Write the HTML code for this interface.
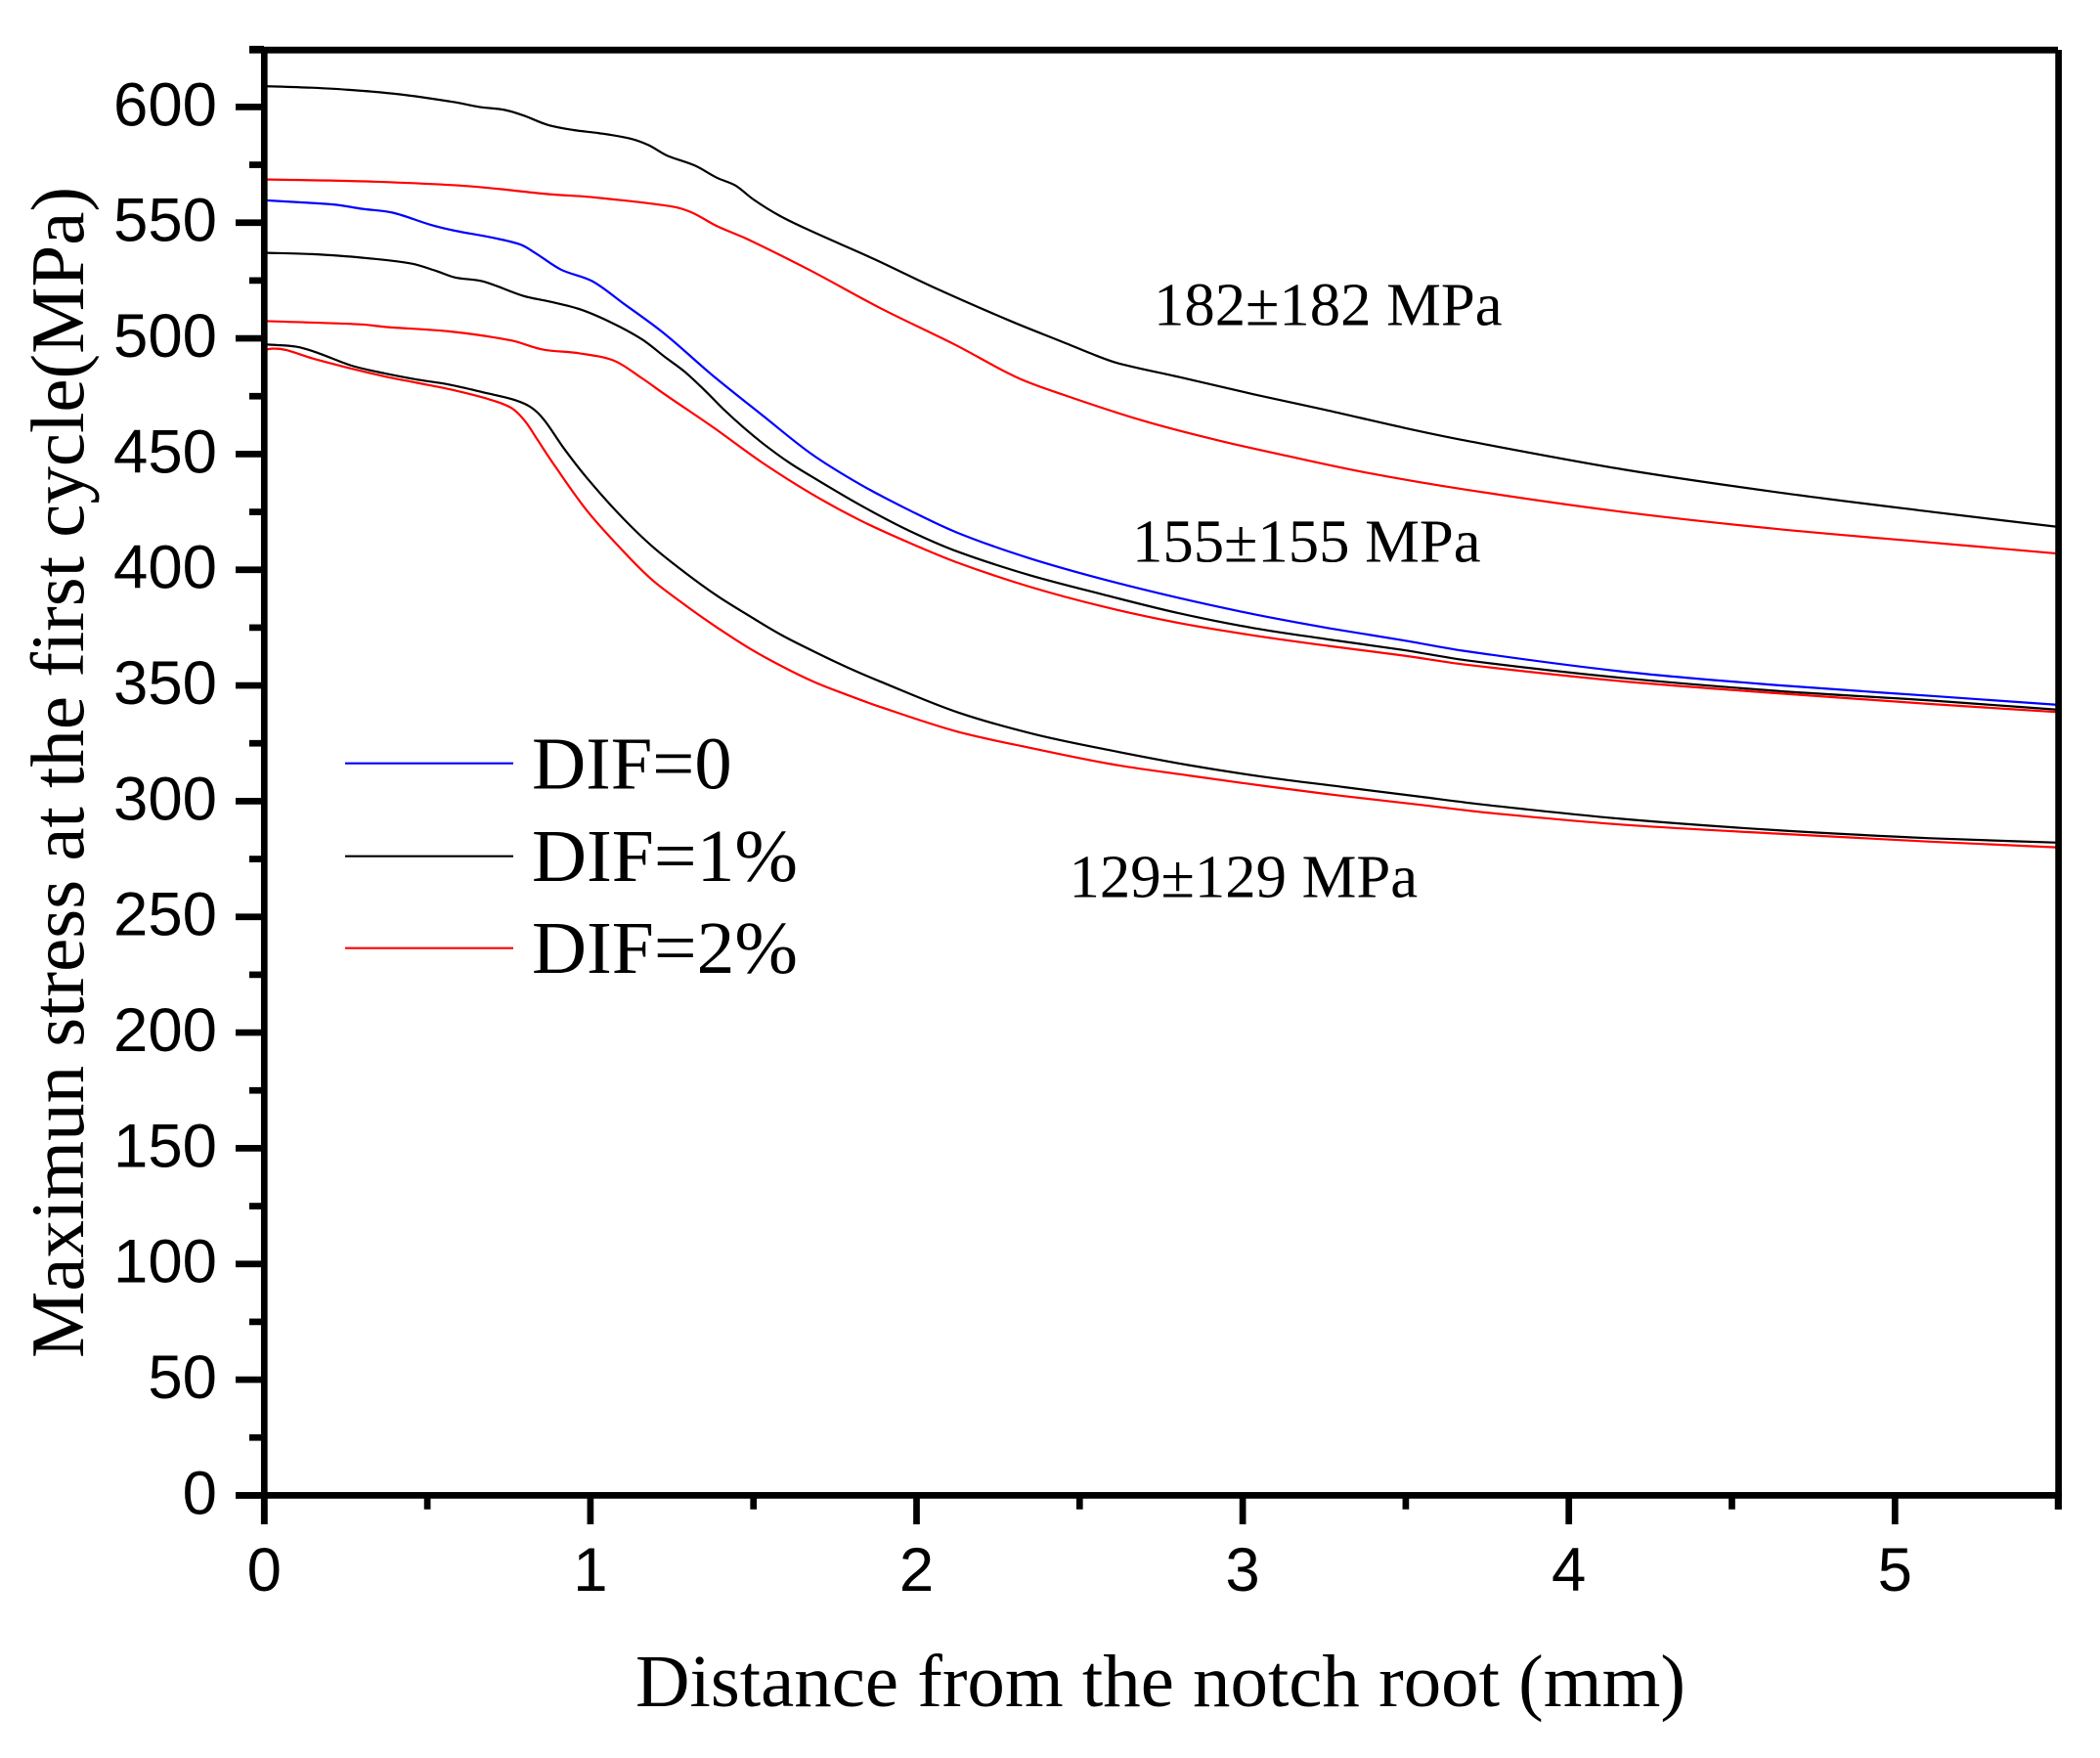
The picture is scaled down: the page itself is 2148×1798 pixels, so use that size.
<!DOCTYPE html>
<html>
<head>
<meta charset="utf-8">
<title>Maximum stress vs distance from the notch root</title>
<style>
html,body{margin:0;padding:0;background:#fff;}
svg{display:block;}
.serif{font-family:"Liberation Serif",serif;fill:#000;}
.sans{font-family:"Liberation Sans",sans-serif;fill:#000;}
</style>
</head>
<body>
<svg id="chart" xmlns="http://www.w3.org/2000/svg" width="2148" height="1798" viewBox="0 0 2148 1798">
  <rect x="0" y="0" width="2148" height="1798" fill="#fff"/>
  <g id="series"></g>
  <g id="axes"></g>
  <text class="serif" x="650" y="1745" font-size="76.5" textLength="1074" lengthAdjust="spacingAndGlyphs">Distance from the notch root (mm)</text>
  <text class="serif" transform="translate(85,1389) rotate(-90)" font-size="77" textLength="1198" lengthAdjust="spacingAndGlyphs">Maximun stress at the first cycle(MPa)</text>
  <g>
    <line x1="353" x2="525" y1="780.7" y2="780.7" stroke="#0000ff" stroke-width="2.2"/>
    <text class="serif" x="544" y="806.7" font-size="76.5">DIF=0</text>
    <line x1="353" x2="525" y1="875.7" y2="875.7" stroke="#000" stroke-width="2.2"/>
    <text class="serif" x="544" y="901" font-size="76.5" textLength="272" lengthAdjust="spacingAndGlyphs">DIF=1%</text>
    <line x1="353" x2="525" y1="969.7" y2="969.7" stroke="#ff0000" stroke-width="2.2"/>
    <text class="serif" x="544" y="995" font-size="76.5" textLength="272" lengthAdjust="spacingAndGlyphs">DIF=2%</text>
  </g>
  <text class="serif" x="1180" y="332.7" font-size="62.7">182±182 MPa</text>
  <text class="serif" x="1158" y="574.3" font-size="62.7">155±155 MPa</text>
  <text class="serif" x="1093.5" y="917.5" font-size="62.7">129±129 MPa</text>
</svg>
<script>
var yTickValues = [0,50,100,150,200,250,300,350,400,450,500,550,600];
var yMinorValues = [25,75,125,175,225,275,325,375,425,475,525,575,625];
var xTickValues = [0,1,2,3,4,5];
var xMinorValues = [0.5,1.5,2.5,3.5,4.5,5.5];

var x182Dif1 = [0,0.145,0.26,0.413,0.585,0.66,0.738,0.795,0.87,0.948,1.025,1.12,1.178,1.235,1.32,1.388,1.445,1.5,1.58,1.675,1.866,2.059,2.288,2.461,2.552,2.621,2.805,3.034,3.263,3.493,3.685,4.165,4.633,5.108,5.5];
var v182Dif1 = [609,608.3,607.4,605.5,602,600,598.7,596.3,592.2,590,588.7,586.4,583.5,579,574.7,569.4,566,560,553,546.5,534.5,521.6,507.5,497.7,492.5,489.1,483.3,475.8,468.8,461.4,455.8,443.4,433.6,425.1,418.5];

var x182Dif2 = [0,0.337,0.623,0.872,1.006,1.254,1.312,1.388,1.484,1.675,1.887,2.116,2.311,2.461,2.69,2.919,3.149,3.378,3.685,4.159,4.633,5.108,5.5];
var v182Dif2 = [568.7,567.7,565.8,562.3,561,556.9,554.3,548.5,542.7,529.3,513.2,497.4,482.9,475.1,464.6,456.1,448.8,442,434.6,425.1,417.7,411.8,407];

var x155Dif0 = [0,0.107,0.222,0.298,0.394,0.509,0.585,0.7,0.786,0.834,0.91,1.006,1.101,1.228,1.378,1.528,1.678,1.828,1.977,2.127,2.346,2.575,2.805,3.034,3.263,3.493,3.685,4.159,4.633,5.108,5.5];
var v155Dif0 = [559.7,558.8,557.7,556,554.3,549.1,546.5,543.5,540.5,536.6,529.7,524.7,515.1,501.9,483.6,466.7,450,436.8,425.8,415.9,405,395.8,387.8,380.8,374.8,369.5,364.8,356.1,350.2,345.5,341.6];

var x155Dif1 = [0,0.145,0.298,0.451,0.528,0.585,0.671,0.795,0.872,0.967,1.063,1.159,1.228,1.288,1.348,1.408,1.468,1.528,1.603,1.678,1.828,1.977,2.127,2.346,2.575,2.805,3.034,3.263,3.493,3.685,4.159,4.633,5.108,5.5];
var v155Dif1 = [537,536.4,534.9,532.3,529.1,526.3,524.6,518.3,516,512.6,506.9,499.5,492,485.7,477.9,469.4,461.7,454.7,446.9,440.3,427.9,416.9,407.8,397.7,389.2,381.2,374.8,369.9,365.3,360.9,353.3,347.7,343.5,339.5];

var x155Dif2 = [0,0.298,0.375,0.566,0.757,0.853,0.967,1.073,1.159,1.228,1.378,1.528,1.678,1.828,1.977,2.127,2.346,2.575,2.805,3.034,3.263,3.493,3.685,4.159,4.633,5.108,5.5];
var v155Dif2 = [507.5,506,504.9,503,499.1,495.2,493.5,490.3,482.7,475.8,461.4,446.2,432.8,421.3,411.7,403,392.7,384,377,371.6,367.1,362.9,359,351.9,346.7,342,338.5];

var x129Dif1 = [0.009,0.098,0.168,0.268,0.368,0.468,0.568,0.6885,0.769,0.818,0.858,0.918,0.988,1.088,1.188,1.288,1.388,1.488,1.588,1.688,1.788,1.887,2.124,2.36,2.597,2.834,3.07,3.31,3.546,3.745,4.159,4.633,5.108,5.5];
var v129Dif1 = [497.3,496.4,493.5,488.2,484.9,482.2,480,476.1,473.3,470.2,464.8,452.6,439.9,424,410.3,399,388.8,380,371.6,364.5,357.8,351.8,338.5,329,321.9,315.6,310.4,306.1,301.9,298.4,292.4,287.5,284,282.1];

var x129Dif2 = [0,0.028,0.068,0.148,0.268,0.368,0.468,0.568,0.6885,0.758,0.798,0.838,0.888,0.988,1.088,1.188,1.288,1.388,1.488,1.588,1.688,1.788,1.887,2.124,2.36,2.597,2.834,3.07,3.31,3.546,3.745,4.159,4.633,5.108,5.5];
var v129Dif2 = [495,495.6,494.9,491.3,486.9,483.6,480.8,478,473.7,469.9,464.5,456.1,445.5,425.8,409.9,395.8,385,375.1,366,358.2,351.4,345.9,340.8,330.1,322.7,316,311.1,306.5,302.2,298.4,295.1,289.9,286,282.5,280];

var SVGNS = 'http://www.w3.org/2000/svg';
function xScale(mm){ return 270.3 + mm * 333.6; }
function yScale(mpa){ return 1529.4 - mpa * 2.3667; }

var axes = document.getElementById('axes');
var seriesGroup = document.getElementById('series');

function makeLine(x1, y1, x2, y2, w){
  var el = document.createElementNS(SVGNS, 'line');
  el.setAttribute('x1', x1);
  el.setAttribute('y1', y1);
  el.setAttribute('x2', x2);
  el.setAttribute('y2', y2);
  el.setAttribute('stroke', '#000');
  el.setAttribute('stroke-width', w);
  axes.appendChild(el);
  return el;
}

function tangentAt(pts, i){
  var a = pts[Math.max(i - 1, 0)];
  var b = pts[Math.min(i + 1, pts.length - 1)];
  var dx = b[0] - a[0];
  var dy = b[1] - a[1];
  var len = Math.sqrt(dx * dx + dy * dy) || 1;
  return [dx / len, dy / len];
}

function smoothPath(xs, vs){
  var pts = xs.map(function(x, i){ return [xScale(x), yScale(vs[i])]; });
  var d = 'M' + pts[0][0].toFixed(1) + ' ' + pts[0][1].toFixed(1);
  for (var i = 0; i < pts.length - 1; i++) {
    var p = pts[i];
    var q = pts[i + 1];
    var dx = q[0] - p[0];
    var dy = q[1] - p[1];
    var h = Math.sqrt(dx * dx + dy * dy) / 3;
    var t0 = tangentAt(pts, i);
    var t1 = tangentAt(pts, i + 1);
    d += 'C' + (p[0] + t0[0] * h).toFixed(1) + ' ' + (p[1] + t0[1] * h).toFixed(1) +
         ' ' + (q[0] - t1[0] * h).toFixed(1) + ' ' + (q[1] - t1[1] * h).toFixed(1) +
         ' ' + q[0].toFixed(1) + ' ' + q[1].toFixed(1);
  }
  return d;
}

function drawCurve(xs, vs, color, name){
  var el = document.createElementNS(SVGNS, 'path');
  el.setAttribute('d', smoothPath(xs, vs));
  el.setAttribute('fill', 'none');
  el.setAttribute('stroke', color);
  el.setAttribute('stroke-width', '2.2');
  el.setAttribute('stroke-linejoin', 'round');
  
  
  seriesGroup.appendChild(el);
}

drawCurve(x182Dif1, v182Dif1, '#000000', 'curve-182-dif-1');
drawCurve(x182Dif2, v182Dif2, '#ff0000', 'curve-182-dif-2');
drawCurve(x155Dif0, v155Dif0, '#0000ff', 'curve-155-dif-0');
drawCurve(x155Dif1, v155Dif1, '#000000', 'curve-155-dif-1');
drawCurve(x155Dif2, v155Dif2, '#ff0000', 'curve-155-dif-2');
drawCurve(x129Dif1, v129Dif1, '#000000', 'curve-129-dif-1');
drawCurve(x129Dif2, v129Dif2, '#ff0000', 'curve-129-dif-2');

var leftAxis = makeLine(270.3, 48, 270.3, 1559, 6.7);


var bottomAxis = makeLine(241, 1529.4, 2109, 1529.4, 6.8);


var topAxis = makeLine(255, 51.2, 2105, 51.2, 6.8);


var rightAxis = makeLine(2105.6, 51, 2105.6, 1543.7, 6.7);



yTickValues.forEach(function(v){
  var t = makeLine(241, yScale(v), 270, yScale(v), 6.7);
  
  
  var label = document.createElementNS(SVGNS, 'text');
  label.setAttribute('class', 'sans');
  label.setAttribute('x', 222);
  label.setAttribute('y', yScale(v) + 19);
  label.setAttribute('text-anchor', 'end');
  label.setAttribute('font-size', '63.5');
  
  
  label.textContent = String(v);
  axes.appendChild(label);
});
yMinorValues.forEach(function(v){
  var t = makeLine(255, yScale(v), 270, yScale(v), 6.7);
  
  
});
xTickValues.forEach(function(v){
  var t = makeLine(xScale(v), 1529, xScale(v), 1559, 6.7);
  
  
  var label = document.createElementNS(SVGNS, 'text');
  label.setAttribute('class', 'sans');
  label.setAttribute('x', xScale(v));
  label.setAttribute('y', 1627);
  label.setAttribute('text-anchor', 'middle');
  label.setAttribute('font-size', '63.5');
  
  
  label.textContent = String(v);
  axes.appendChild(label);
});
xMinorValues.forEach(function(v){
  var t = makeLine(xScale(v), 1529, xScale(v), 1543.7, 6.7);
  
  
});
</script>
</body>
</html>
